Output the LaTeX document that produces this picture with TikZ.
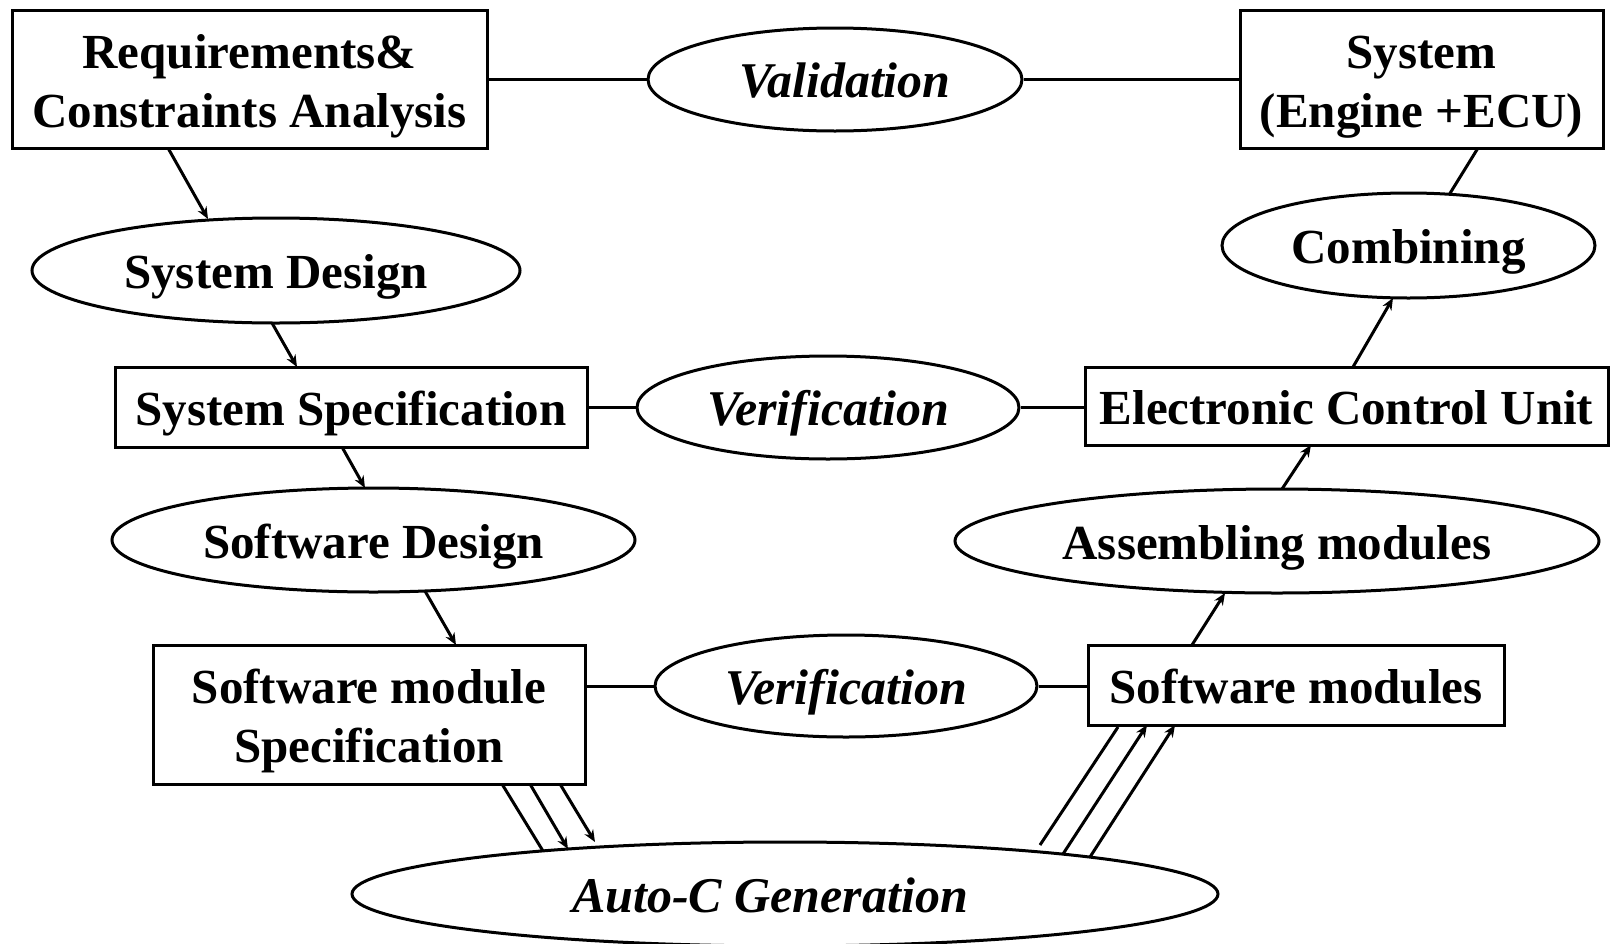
\documentclass[tikz,border=0pt]{standalone}
\usepackage{fontspec}
\setmainfont{Liberation Serif}
\usetikzlibrary{shapes.geometric,arrows.meta,calc}

\tikzset{
  base/.style={draw=black, line width=3pt, inner sep=0pt,
               text height=36pt, text depth=0pt,
               font=\fontsize{49}{59}\selectfont\bfseries},
  stage/.style={base, rectangle},
  twostage/.style={stage, text height=96pt},
  activity/.style={base, ellipse},
  check/.style={activity, font=\fontsize{50}{59}\selectfont\bfseries\itshape},
  link/.style={line width=3pt},
  flow/.style={link, -{Stealth[length=12pt,width=10pt]}},
}

% point at an offset from a node's centre
\newcommand{\at}[3]{($(#1.center)+(#2,#3)$)}
% two centred lines; the box baseline is the second line
\newcommand{\twolines}[2]{\vbox{\halign{\hfil##\hfil\cr #1\cr #2\cr}}}

\begin{document}
\begin{tikzpicture}[x=1pt,y=-1pt]
\useasboundingbox (0,0) rectangle (1610,943);

% left branch: requirements down to module specification
\node[twostage, minimum width=475pt, minimum height=138pt] (req) at (249.5,79)
  {\twolines{Requirements\&}{Constraints Analysis}};
\node[activity, minimum width=488pt, minimum height=105pt] (sd) at (276,270.5) {System Design};
\node[stage, minimum width=472pt, minimum height=80pt] (ss) at (351,407) {System Specification};
\node[activity, minimum width=523pt, minimum height=104pt] (swd) at (373.5,540) {Software Design};
\node[twostage, minimum width=432pt, minimum height=139pt] (sms) at (369,714.5)
  {\twolines{Software module}{Specification}};

% checks across the V
\node[check, minimum width=374pt, minimum height=103pt] (val) at (835,79.5) {\kern20pt Validation};
\node[check, minimum width=382pt, minimum height=103pt] (ver1) at (828,407.5) {Verification};
\node[check, minimum width=382pt, minimum height=102pt] (ver2) at (846,686) {Verification};

% code generation at the bottom
\node[check, minimum width=866pt, minimum height=104pt] (auto) at (785,894) {Auto-C Generation\kern30pt};

% right branch: integration up to the system
\node[stage, minimum width=416pt, minimum height=80pt] (swm) at (1296,685) {Software modules};
\node[activity, minimum width=644pt, minimum height=104pt] (asm) at (1277,541) {Assembling modules};
\node[stage, minimum width=523pt, minimum height=78pt] (ecu) at (1346.5,406) {Electronic Control Unit};
\node[activity, minimum width=373pt, minimum height=105pt] (comb) at (1408.5,245.5) {Combining};
\node[twostage, minimum width=363pt, minimum height=138pt] (sys) at (1421.5,79)
  {\twolines{System}{(Engine +ECU)}};

% horizontal links through the checks
\draw[link] (req.east |- val.west) -- (val.west);
\draw[link] (val.east) -- (val.east -| sys.west);
\draw[link] (ver1.west -| ss.east) -- (ver1.west);
\draw[link] (ver1.east) -- (ver1.east -| ecu.west);
\draw[link] (ver2.west -| sms.east) -- (ver2.west);
\draw[link] (ver2.east) -- (ver2.east -| swm.west);

% design flow
\draw[flow] \at{req}{-81.5}{69} -- \at{sd}{-68}{-51.5};
\draw[flow] \at{sd}{-4}{52.5} -- \at{ss}{-54}{-40};
\draw[flow] \at{ss}{-9}{40} -- \at{swd}{-8.5}{-52};
\draw[flow] \at{swd}{51.5}{51} -- \at{sms}{87}{-69.5};

% into code generation
\draw[link] \at{sms}{133}{69.5} -- \at{auto}{-242}{-43};
\draw[flow] \at{sms}{161}{69.5} -- \at{auto}{-217}{-45};
\draw[flow] \at{sms}{191}{69.5} -- \at{auto}{-190}{-52};

% out of code generation
\draw[link] \at{auto}{255}{-49} -- \at{swm}{-178}{42};
\draw[flow] \at{auto}{278}{-40} -- \at{swm}{-149}{40};
\draw[flow] \at{auto}{305}{-37} -- \at{swm}{-121}{40};

% integration flow
\draw[flow] \at{swm}{-104}{-40} -- \at{asm}{-52}{52};
\draw[flow] \at{asm}{5}{-52} -- \at{ecu}{-35.5}{39};
\draw[flow] \at{ecu}{6.5}{-39} -- \at{comb}{-15.5}{52.5};
\draw[link] \at{comb}{41.5}{-52.2} -- \at{sys}{56.5}{69};
\end{tikzpicture}
\end{document}
